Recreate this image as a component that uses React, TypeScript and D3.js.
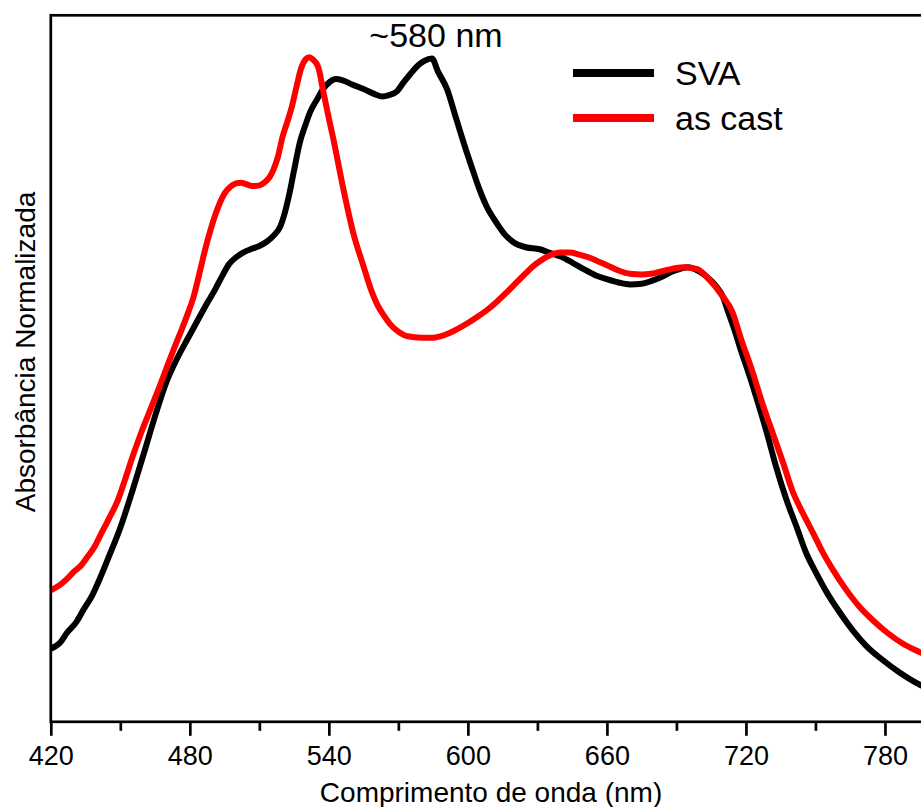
import React, { useEffect, useRef } from 'react';
import * as d3 from 'd3';

// wavelength (nm) and normalized absorbance
const svaWave = [420, 424, 427, 431, 434, 438, 441, 445, 450, 455, 460, 465, 470, 475, 479, 484, 488, 491, 494, 497, 500, 503, 507, 510, 513, 516, 519, 521, 523, 525, 527.5, 530, 532, 535, 537.5, 540.5, 543, 546, 550, 555, 560, 563, 566, 569.5, 572, 575, 578, 581, 584.5, 587, 591, 595, 599.5, 602, 605, 608, 612.5, 616, 619.5, 625, 631, 635, 640, 645, 650, 655, 660, 665, 670, 675, 679, 684, 688.5, 692, 695, 698, 703, 707, 710, 712, 715, 718, 721.7, 725, 729, 733, 737.5, 742, 746, 750, 755, 760, 766, 772, 779, 786, 795.5, 800];
const svaAbs = [0.110, 0.119, 0.134, 0.150, 0.168, 0.191, 0.214, 0.248, 0.292, 0.345, 0.402, 0.460, 0.512, 0.550, 0.576, 0.608, 0.633, 0.651, 0.671, 0.689, 0.699, 0.706, 0.712, 0.716, 0.722, 0.731, 0.745, 0.766, 0.795, 0.830, 0.872, 0.899, 0.918, 0.937, 0.952, 0.963, 0.967, 0.965, 0.959, 0.952, 0.944, 0.941, 0.943, 0.949, 0.961, 0.974, 0.986, 0.994, 0.998, 0.979, 0.952, 0.907, 0.857, 0.831, 0.801, 0.776, 0.750, 0.733, 0.722, 0.714, 0.711, 0.706, 0.700, 0.691, 0.681, 0.672, 0.666, 0.661, 0.658, 0.659, 0.663, 0.670, 0.678, 0.682, 0.684, 0.681, 0.670, 0.656, 0.640, 0.620, 0.590, 0.557, 0.519, 0.482, 0.435, 0.384, 0.334, 0.292, 0.254, 0.226, 0.194, 0.167, 0.138, 0.114, 0.093, 0.075, 0.055, 0.048];

const castWave = [420, 424, 427, 430, 433, 436, 439, 441, 445, 449, 452, 455.5, 459, 463, 467, 470, 473, 476, 479, 481.5, 484.5, 487, 489, 491, 493, 495, 497.5, 500, 502, 505, 507.5, 510, 512, 514.5, 516, 518, 520, 522, 524, 526, 528, 530, 531.5, 533, 535.5, 537.5, 540, 542, 546, 550.5, 555, 558, 561, 564, 566.5, 570, 574, 580, 585, 590, 595, 600, 604, 609.5, 612.5, 617, 621, 625, 628, 631, 635.5, 640, 644, 648, 652, 656, 660, 665, 670, 675, 679, 686, 693, 699, 704, 710, 714, 718, 723, 727, 731.5, 736, 740, 745, 749, 753, 757.5, 763, 769, 775, 781, 788, 795.5, 800];
const castAbs = [0.198, 0.206, 0.215, 0.226, 0.235, 0.249, 0.264, 0.278, 0.305, 0.334, 0.364, 0.401, 0.435, 0.470, 0.505, 0.533, 0.560, 0.586, 0.613, 0.638, 0.680, 0.716, 0.741, 0.763, 0.781, 0.795, 0.805, 0.810, 0.811, 0.808, 0.806, 0.807, 0.811, 0.820, 0.830, 0.850, 0.880, 0.902, 0.925, 0.955, 0.983, 0.997, 1.000, 0.997, 0.984, 0.950, 0.908, 0.876, 0.806, 0.736, 0.685, 0.652, 0.627, 0.610, 0.598, 0.587, 0.580, 0.578, 0.578, 0.582, 0.590, 0.600, 0.609, 0.623, 0.632, 0.647, 0.661, 0.675, 0.685, 0.693, 0.702, 0.706, 0.706, 0.703, 0.699, 0.693, 0.687, 0.679, 0.674, 0.673, 0.674, 0.680, 0.684, 0.681, 0.666, 0.640, 0.618, 0.575, 0.525, 0.480, 0.435, 0.390, 0.348, 0.311, 0.284, 0.256, 0.229, 0.200, 0.173, 0.152, 0.134, 0.117, 0.104, 0.096];

const majorTicks = [420, 480, 540, 600, 660, 720, 780];
const minorTicks = [450, 510, 570, 630, 690, 750];

const seriesNames = ['SVA', 'as cast'];
const seriesColors = ['#000000', '#ff0000'];

const FONT = '"Liberation Sans", Arial, sans-serif';

const App = () => {
    const ref = useRef(null);

    useEffect(() => {
        const width = 921;
        const height = 807;
        const margin = { top: 15.3, left: 50.8, bottom: 721.8, right: 931.3 };

        const root = d3.select(ref.current);
        root.html('');

        const svg = root.append('svg')
            .attr('width', width)
            .attr('height', height)
            .style('position', 'absolute')
            .style('left', 0)
            .style('top', 0)
            .style('background', '#fff');

        const x = d3.scaleLinear().domain([420, 800]).range([margin.left, margin.right]);
        const y = d3.scaleLinear().domain([0, 1.063]).range([margin.bottom, margin.top]);

        const line = d3.line()
            .x(d => x(d[0]))
            .y(d => y(d[1]))
            .curve(d3.curveMonotoneX);

        const sva = svaWave.map((w, i) => [w, svaAbs[i]]);
        const cast = castWave.map((w, i) => [w, castAbs[i]]);

        svg.append('defs').append('clipPath').attr('id', 'plot-clip')
            .append('rect')
            .attr('x', margin.left).attr('y', margin.top)
            .attr('width', margin.right - margin.left)
            .attr('height', margin.bottom - margin.top);

        const plot = svg.append('g').attr('clip-path', 'url(#plot-clip)');

        [sva, cast].forEach((data, i) => {
            plot.append('path')
                .datum(data)
                .attr('fill', 'none')
                .attr('stroke', seriesColors[i])
                .attr('stroke-width', 6)
                .attr('stroke-linejoin', 'round')
                .attr('d', line);
        });

        // frame
        svg.append('rect')
            .attr('x', margin.left)
            .attr('y', margin.top)
            .attr('width', margin.right - margin.left)
            .attr('height', margin.bottom - margin.top)
            .attr('fill', 'none')
            .attr('stroke', '#000')
            .attr('stroke-width', 2.7);

        // minor ticks
        svg.append('g')
            .attr('transform', `translate(0, ${margin.bottom})`)
            .call(d3.axisBottom(x).tickValues(minorTicks).tickSize(9).tickFormat(() => ''))
            .call(g => g.select('.domain').remove())
            .call(g => g.selectAll('line').attr('stroke-width', 2.7));

        // major ticks with labels
        svg.append('g')
            .attr('transform', `translate(0, ${margin.bottom})`)
            .call(d3.axisBottom(x).tickValues(majorTicks).tickSize(14).tickPadding(10))
            .call(g => g.select('.domain').remove())
            .call(g => g.selectAll('line').attr('stroke-width', 2.7))
            .call(g => g.selectAll('text')
                .attr('fill', '#000')
                .style('font-family', FONT)
                .style('font-size', '27px'));

        svg.append('text')
            .attr('x', (margin.left + margin.right) / 2)
            .attr('y', 802)
            .attr('text-anchor', 'middle')
            .style('font-family', FONT)
            .style('font-size', '28px')
            .text('Comprimento de onda (nm)');

        svg.append('text')
            .attr('transform', 'translate(35, 352) rotate(-90)')
            .attr('text-anchor', 'middle')
            .style('font-family', FONT)
            .style('font-size', '28px')
            .text('Absorbância Normalizada');

        svg.append('text')
            .attr('x', 436)
            .attr('y', 47)
            .attr('text-anchor', 'middle')
            .style('font-family', FONT)
            .style('font-size', '34px')
            .text('~580 nm');

        // legend
        const legend = svg.append('g');
        seriesNames.forEach((name, i) => {
            const ly = 73 + i * 45;
            legend.append('line')
                .attr('x1', 573).attr('x2', 654)
                .attr('y1', ly).attr('y2', ly)
                .attr('stroke', seriesColors[i])
                .attr('stroke-width', 8);
            legend.append('text')
                .attr('x', 675)
                .attr('y', ly + 12)
                .style('font-family', FONT)
                .style('font-size', '34px')
                .text(name);
        });
    }, []);

    return <div ref={ref}></div>;
};

export default App;
